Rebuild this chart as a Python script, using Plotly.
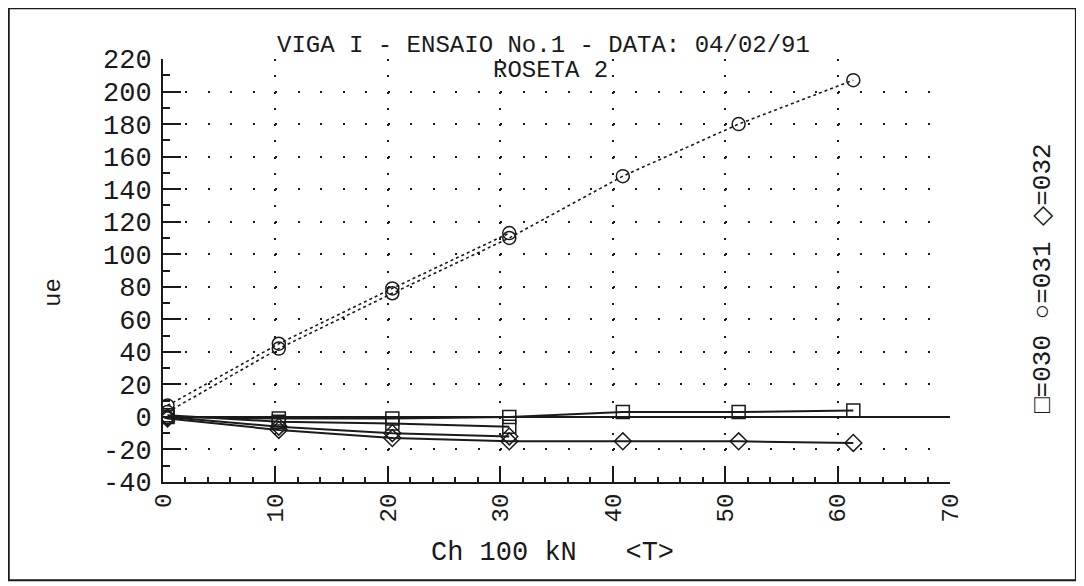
import plotly.graph_objects as go

# ---- data ----
loads_run1 = [0.4, 10.3, 20.4, 30.8]
loads_run2 = [0.4, 10.3, 20.4, 30.8, 40.9, 51.2, 61.4]

r030_run1 = [1, -3, -4, -6]
r030_run2 = [0, -1, -1, 0, 3, 3, 4]
r031_run1 = [7, 45, 79, 113]
r031_run2 = [3, 42, 76, 110, 148, 180, 207]
r032_run1 = [0, -6, -10, -12]
r032_run2 = [-1, -8, -13, -15, -15, -15, -16]

x_ticks = [0, 10, 20, 30, 40, 50, 60, 70]
y_ticks = [-40, -20, 0, 20, 40, 60, 80, 100, 120, 140, 160, 180, 200, 220]

title_line1 = "VIGA I - ENSAIO No.1 - DATA: 04/02/91"
title_line2 = "ROSETA 2"
x_title = "Ch 100 kN   <T>"
y_title = "ue"
legend_text = "\u25a1=030 \u25cb=031 \u25c7=032"

INK = "#1a1a1a"
FONT = "Liberation Mono"

fig = go.Figure()

series = [
    (loads_run1, r030_run1, "square-open", "solid", 2),
    (loads_run2, r030_run2, "square-open", "solid", 2),
    (loads_run1, r031_run1, "circle-open", "3px,3px", 1.6),
    (loads_run2, r031_run2, "circle-open", "3px,3px", 1.6),
    (loads_run1, r032_run1, "diamond-open", "solid", 2),
    (loads_run2, r032_run2, "diamond-open", "solid", 2),
]
for xs, ys, sym, dash, w in series:
    fig.add_trace(go.Scatter(
        x=xs, y=ys, mode="lines+markers",
        line=dict(color=INK, width=w, dash=dash),
        marker=dict(symbol=sym, size=13, color=INK, line=dict(width=1.5, color=INK)),
        showlegend=False, hoverinfo="skip",
    ))

fig.update_layout(
    width=1076, height=578,
    margin=dict(l=155, r=134, t=51, b=104),
    paper_bgcolor="white", plot_bgcolor="white",
    font=dict(family=FONT, size=24, color=INK),
    showlegend=False,
)

fig.update_xaxes(
    range=[0, 70], tickvals=x_ticks, ticktext=[str(v) for v in x_ticks],
    tickangle=-90, tickfont=dict(family=FONT, size=24, color=INK),
    showline=True, linecolor=INK, linewidth=2,
    ticks="inside", ticklen=16, tickwidth=2, tickcolor=INK,
    minor=dict(ticks="inside", ticklen=5, tickwidth=2, tickcolor=INK, dtick=2, showgrid=False),
    showgrid=True, gridcolor=INK, gridwidth=2, griddash="2px,14.27px",
    zeroline=False, mirror=False, automargin=False,
)
fig.update_yaxes(
    range=[-40, 220], tickvals=y_ticks, ticktext=[str(v) for v in y_ticks],
    tickfont=dict(family=FONT, size=27, color=INK), ticklabelstandoff=4,
    showline=True, linecolor=INK, linewidth=2,
    ticks="inside", ticklen=18, tickwidth=2, tickcolor=INK,
    minor=dict(ticks="inside", ticklen=7, tickwidth=2, tickcolor=INK, dtick=10, showgrid=False),
    showgrid=True, gridcolor=INK, gridwidth=2, griddash="2px,20.49px",
    zeroline=True, zerolinecolor=INK, zerolinewidth=2, mirror=False, automargin=False,
)

def note(text, x, y, size, angle=0):
    fig.add_annotation(text=text, xref="paper", yref="paper", x=x, y=y,
                       xanchor="center", yanchor="middle", showarrow=False,
                       textangle=angle, font=dict(family=FONT, size=size, color=INK))

note(title_line1, 0.483, 1.033, 24)
note(title_line2, 0.493, 0.973, 24)
note(x_title, 0.4955, -0.168, 27)
note(y_title, -0.140, 0.449, 24, -90)
note(legend_text, 1.118, 0.482, 26, -90)

fig.add_shape(type="rect", xref="paper", yref="paper",
              x0=-0.196, x1=1.160, y0=-0.232, y1=1.12,
              line=dict(color=INK, width=2), fillcolor="rgba(0,0,0,0)", layer="below")

fig.write_html("out.html")
